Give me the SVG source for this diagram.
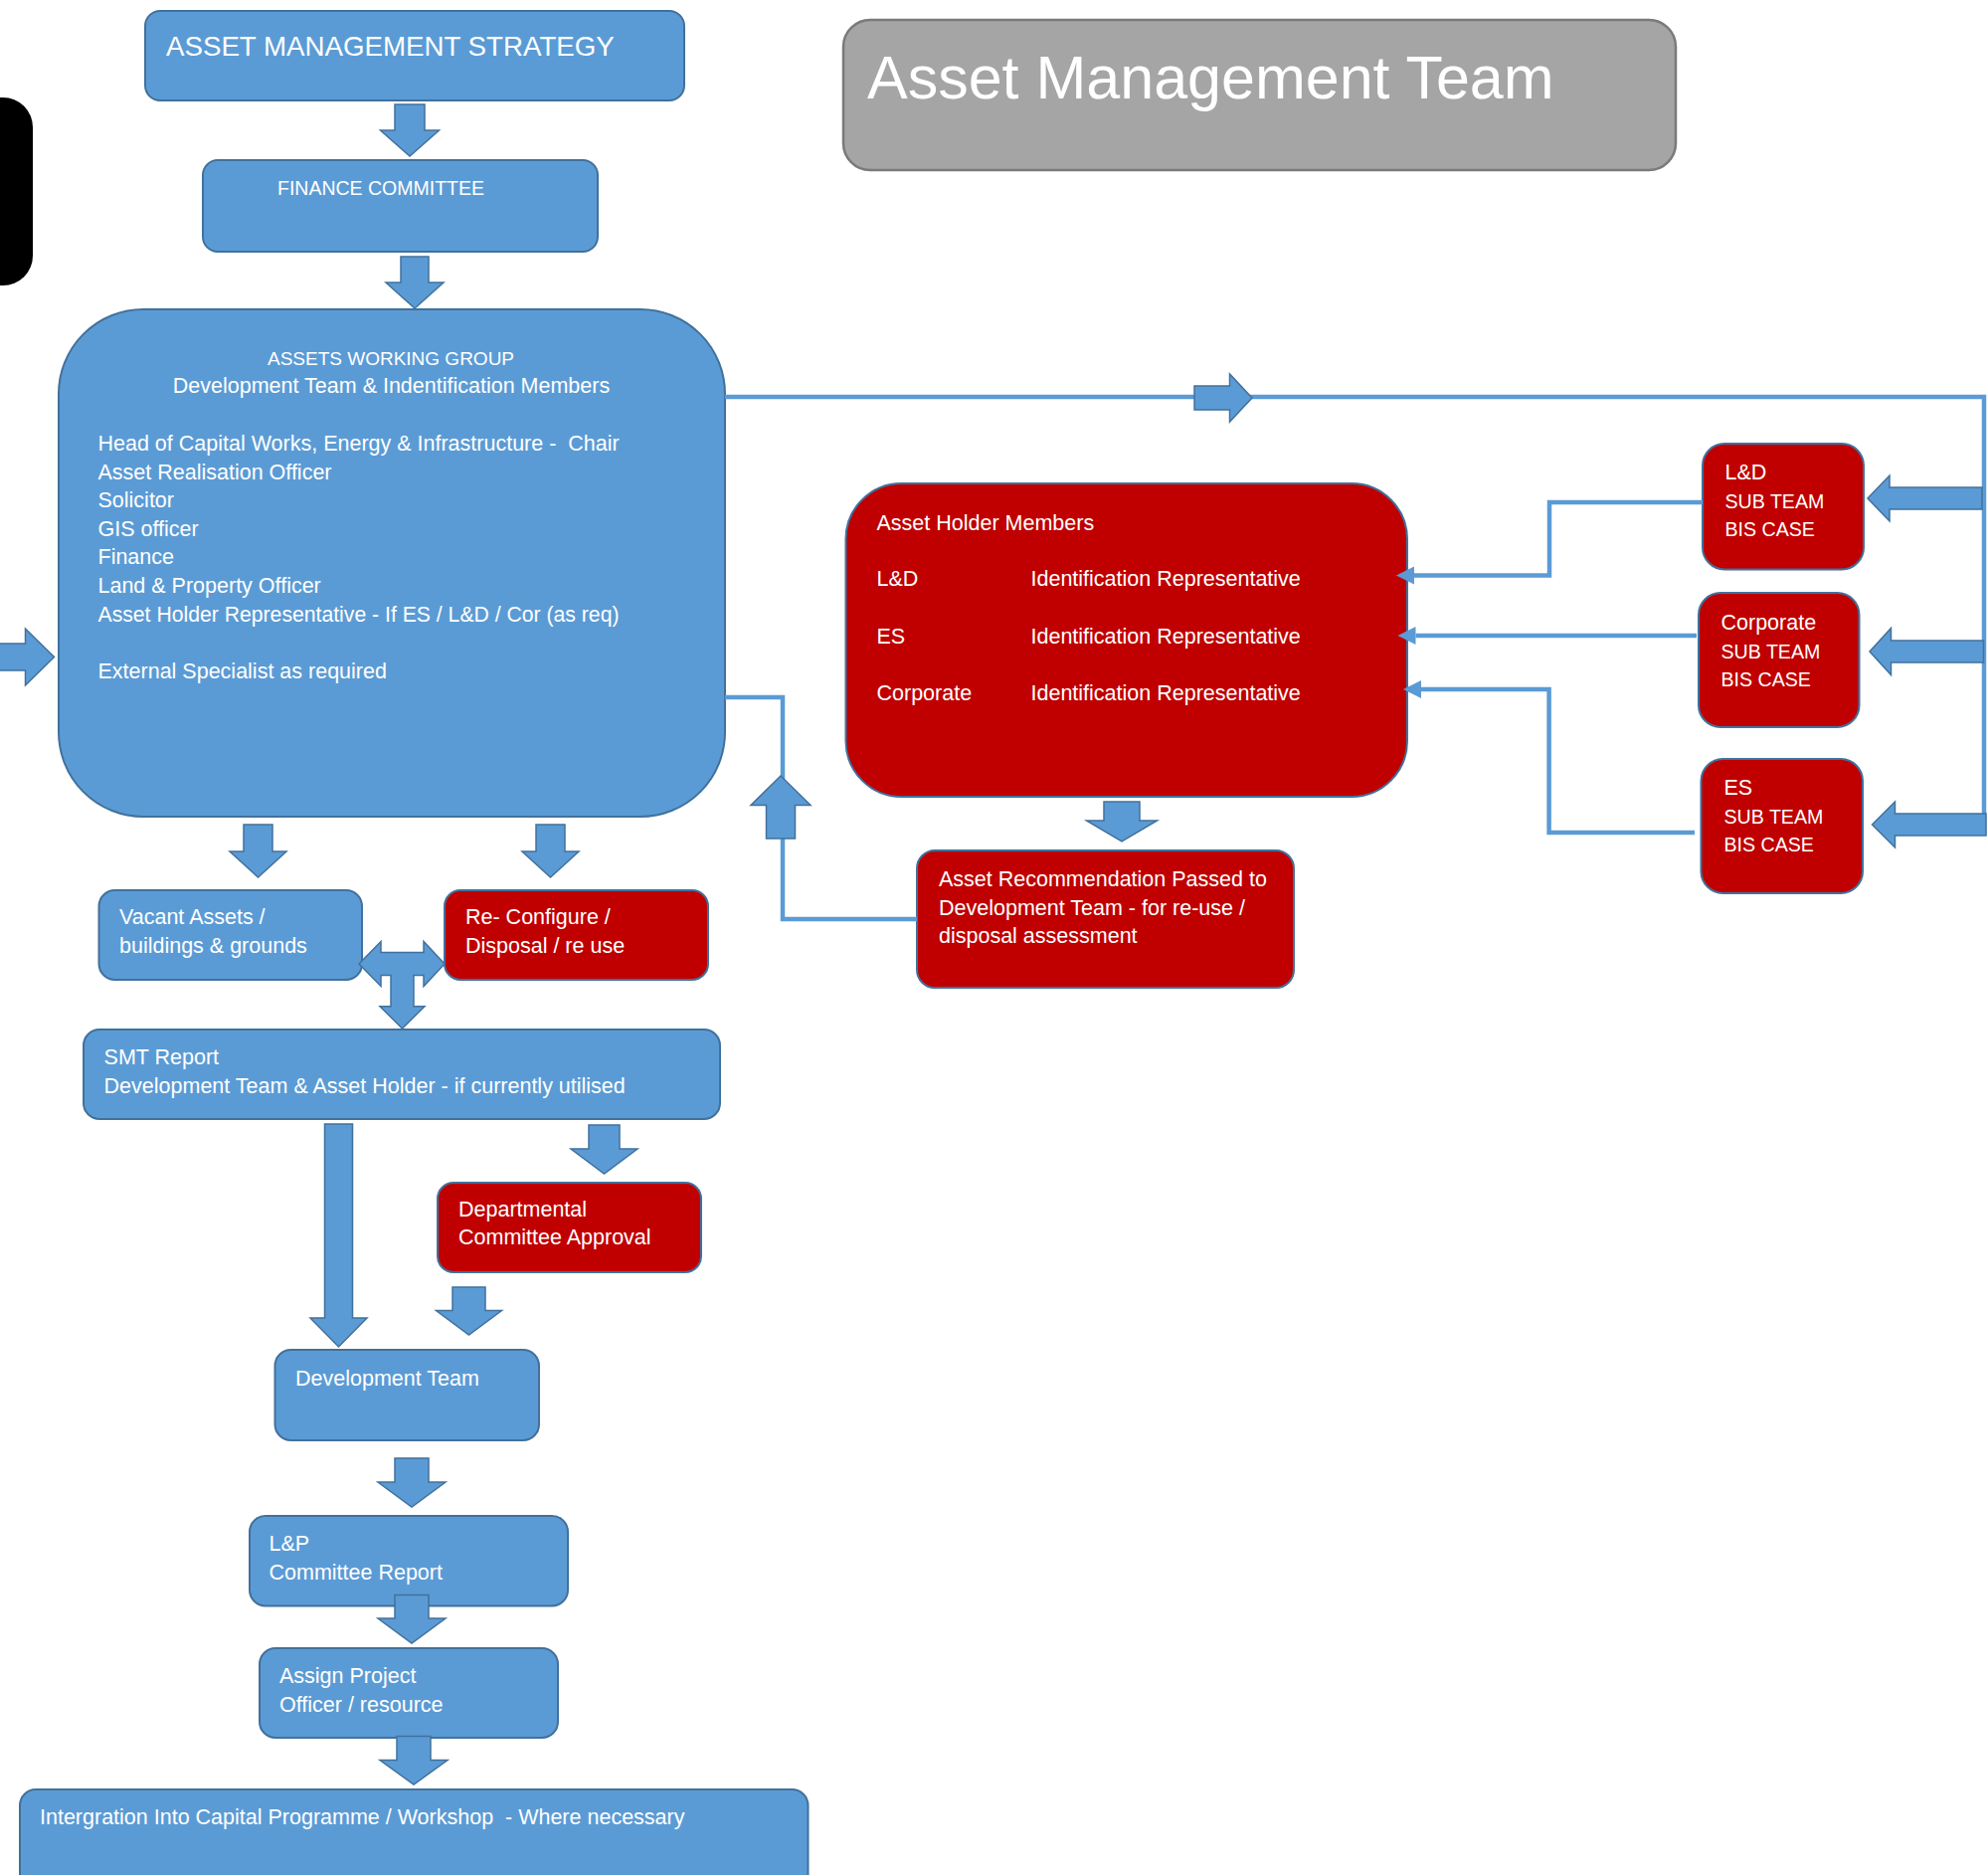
<svg xmlns="http://www.w3.org/2000/svg" width="1999" height="1885" viewBox="0 0 1999 1885">
<defs>
<style>
.blue{fill:#5b9bd5;stroke:#41719c;stroke-width:2}
.red{fill:#c00000;stroke:#41719c;stroke-width:2}
.gray{fill:#a5a5a5;stroke:#7a7a7a;stroke-width:2.5}
.t{fill:#ffffff;font-family:"Liberation Sans",Arial,sans-serif;font-size:21.5px;white-space:pre}
.c{font-size:19.6px}
.ba{fill:#5b9bd5;stroke:#41719c;stroke-width:1.5;stroke-linejoin:miter}
.ln{fill:none;stroke:#5b9bd5;stroke-width:4.5}
</style>
<marker id="ah" markerUnits="userSpaceOnUse" markerWidth="20" markerHeight="20" refX="0" refY="9" orient="auto">
<path d="M0,0 L18,9 L0,18 Z" fill="#5b9bd5"/>
</marker>
</defs>
<rect width="1999" height="1885" fill="#ffffff"/>
<g id="black-shape"><rect x="-60" y="98" width="93" height="189" rx="30" fill="#000000"/></g>
<g id="ams"><rect class="blue" x="146" y="11" width="542" height="90" rx="15"/><text class="t" x="167" y="56" style="font-size:27.7px">ASSET MANAGEMENT STRATEGY</text></g>
<g id="amt"><rect class="gray" x="848" y="20" width="837" height="151" rx="27"/><text class="t" x="872" y="99" style="font-size:61px">Asset Management Team</text></g>
<g id="fc"><rect class="blue" x="204" y="161" width="397" height="92" rx="15"/><text class="t" x="279" y="196" style="font-size:19.5px">FINANCE COMMITTEE</text></g>
<g id="awg"><rect class="blue" x="59" y="311" width="670" height="510" rx="85"/>
<text class="t" x="393" y="367" text-anchor="middle" style="font-size:19px">ASSETS WORKING GROUP</text>
<text class="t" x="393.5" y="395" text-anchor="middle">Development Team &amp; Indentification Members</text>
<text class="t" x="98.5" y="453" xml:space="preserve">Head of Capital Works, Energy &amp; Infrastructure -  Chair</text>
<text class="t" x="98.5" y="481.6">Asset Realisation Officer</text>
<text class="t" x="98.5" y="510.2">Solicitor</text>
<text class="t" x="98.5" y="538.8">GIS officer</text>
<text class="t" x="98.5" y="567.4">Finance</text>
<text class="t" x="98.5" y="596">Land &amp; Property Officer</text>
<text class="t" x="98.5" y="624.6" style="font-size:21.2px">Asset Holder Representative - If ES / L&amp;D / Cor (as req)</text>
<text class="t" x="98.5" y="682">External Specialist as required</text>
</g>
<g id="vacant"><rect class="blue" x="99.5" y="895" width="264.5" height="90" rx="16"/><text class="t" x="120" y="929">Vacant Assets /</text><text class="t" x="120" y="957.6">buildings &amp; grounds</text></g>
<g id="reconfig"><rect class="red" x="447" y="895" width="265" height="90" rx="16"/><text class="t" x="468" y="929">Re- Configure /</text><text class="t" x="468" y="957.6">Disposal / re use</text></g>
<g id="smt"><rect class="blue" x="84" y="1035" width="640" height="90" rx="16"/><text class="t" x="104.6" y="1070">SMT Report</text><text class="t" x="104.6" y="1098.6">Development Team &amp; Asset Holder - if currently utilised</text></g>
<g id="dept"><rect class="red" x="440" y="1189" width="265" height="90" rx="16"/><text class="t" x="461" y="1222.5">Departmental</text><text class="t" x="461" y="1251">Committee Approval</text></g>
<g id="devteam"><rect class="blue" x="276.5" y="1357" width="265.5" height="91" rx="16"/><text class="t" x="297" y="1393">Development Team</text></g>
<g id="lp"><rect class="blue" x="251" y="1524" width="320" height="90.5" rx="16"/><text class="t" x="270.5" y="1559">L&amp;P</text><text class="t" x="270.5" y="1587.6">Committee Report</text></g>
<g id="assign"><rect class="blue" x="261" y="1657" width="300" height="90" rx="16"/><text class="t" x="281" y="1692">Assign Project</text><text class="t" x="281" y="1720.6">Officer / resource</text></g>
<g id="integration"><rect class="blue" x="20" y="1799" width="792.5" height="130" rx="16"/><text class="t" x="40" y="1833.6" xml:space="preserve">Intergration Into Capital Programme / Workshop  - Where necessary</text></g>
<g id="ahm"><rect class="red" x="850.5" y="486" width="564.5" height="315" rx="56"/>
<text class="t" x="881.5" y="532.6">Asset Holder Members</text>
<text class="t" x="881.5" y="589">L&amp;D</text><text class="t" x="1036.5" y="589">Identification Representative</text>
<text class="t" x="881.5" y="646.5">ES</text><text class="t" x="1036.5" y="646.5">Identification Representative</text>
<text class="t" x="881.5" y="704">Corporate</text><text class="t" x="1036.5" y="704">Identification Representative</text>
</g>
<g id="ar"><rect class="red" x="922" y="855" width="379" height="138" rx="18"/><text class="t" x="944" y="891">Asset Recommendation Passed to</text><text class="t" x="944" y="919.6">Development Team - for re-use /</text><text class="t" x="944" y="948.2">disposal assessment</text></g>
<g id="ld-sub"><rect class="red" x="1712" y="446" width="162" height="126.5" rx="22"/><text class="t" x="1734.5" y="482">L&amp;D</text><text class="t c" x="1734.5" y="510.6">SUB TEAM</text><text class="t c" x="1734.5" y="539.2">BIS CASE</text></g>
<g id="corp-sub"><rect class="red" x="1708" y="596" width="161.5" height="135" rx="22"/><text class="t" x="1730.5" y="633">Corporate</text><text class="t c" x="1730.5" y="661.6">SUB TEAM</text><text class="t c" x="1730.5" y="690.2">BIS CASE</text></g>
<g id="es-sub"><rect class="red" x="1710.5" y="763" width="162.5" height="135" rx="22"/><text class="t" x="1733.5" y="799">ES</text><text class="t c" x="1733.5" y="827.6">SUB TEAM</text><text class="t c" x="1733.5" y="856.2">BIS CASE</text></g>
<g id="connectors">
<path class="ln" d="M729,399 H1995 V840"/>
<path class="ln" d="M729,701 H787 V924 H922"/>
<path class="ln" d="M1712,505 H1558 V578.5 H1422" marker-end="url(#ah)"/>
<path class="ln" d="M1706,639 H1423.5" marker-end="url(#ah)"/>
<path class="ln" d="M1704,837 H1557.6 V693 H1429" marker-end="url(#ah)"/>
<path class="ba" d="M397,105 H427 V131 H441.5 L412,157 L382.5,131 H397 Z"/>
<path class="ba" d="M403,258 H431 V284 H446 L417,310 L388,284 H403 Z"/>
<path class="ba" d="M245,829 H274 V856 H288 L259.5,882 L231,856 H245 Z"/>
<path class="ba" d="M539,829 H568 V856 H582 L553.5,882 L525,856 H539 Z"/>
<path class="ba" d="M361,969 L383,946.5 V957.5 H426 V946.5 L447,969 L426,991.5 V980.5 H416 V1011.7 H427 L404.5,1034 L382,1011.7 H393 V980.5 H383 V991.5 Z"/>
<path class="ba" d="M326.5,1130 H354.5 V1325 H369 L340.5,1354 L312,1325 H326.5 Z"/>
<path class="ba" d="M592,1131 H623 V1155 H641 L607.5,1180 L574,1155 H592 Z"/>
<path class="ba" d="M455,1294 H488 V1317.5 H504.5 L471.5,1342 L438.5,1317.5 H455 Z"/>
<path class="ba" d="M397,1466 H431 V1490 H448 L414,1515 L380,1490 H397 Z"/>
<path class="ba" d="M397,1603.5 H431 V1627 H448 L414,1652 L380,1627 H397 Z"/>
<path class="ba" d="M399,1745.5 H433 V1769.5 H450 L416,1794 L382,1769.5 H399 Z"/>
<path class="ba" d="M1110,806 H1146 V825 H1163.5 L1128,846 L1092.5,825 H1110 Z"/>
<path class="ba" d="M770.5,843 V809.5 H755 L785,780 L815,809.5 H799.5 V843 Z"/>
<path class="ba" d="M-5,647 H25.5 V632 L54.5,660.5 L25.5,689 V674 H-5 Z"/>
<path class="ba" d="M1201,388 H1236.5 V376 L1259,400 L1236.5,424 V412 H1201 Z"/>
<path class="ba" d="M1993,490 H1900 V478 L1878,501 L1900,524 V512 H1993 Z"/>
<path class="ba" d="M1994.5,644 H1901.5 V631.5 L1880,655 L1901.5,678.5 V666 H1994.5 Z"/>
<path class="ba" d="M1997,818 H1905.5 V806 L1882.5,829 L1905.5,852 V840 H1997 Z"/>
</g>
</svg>
